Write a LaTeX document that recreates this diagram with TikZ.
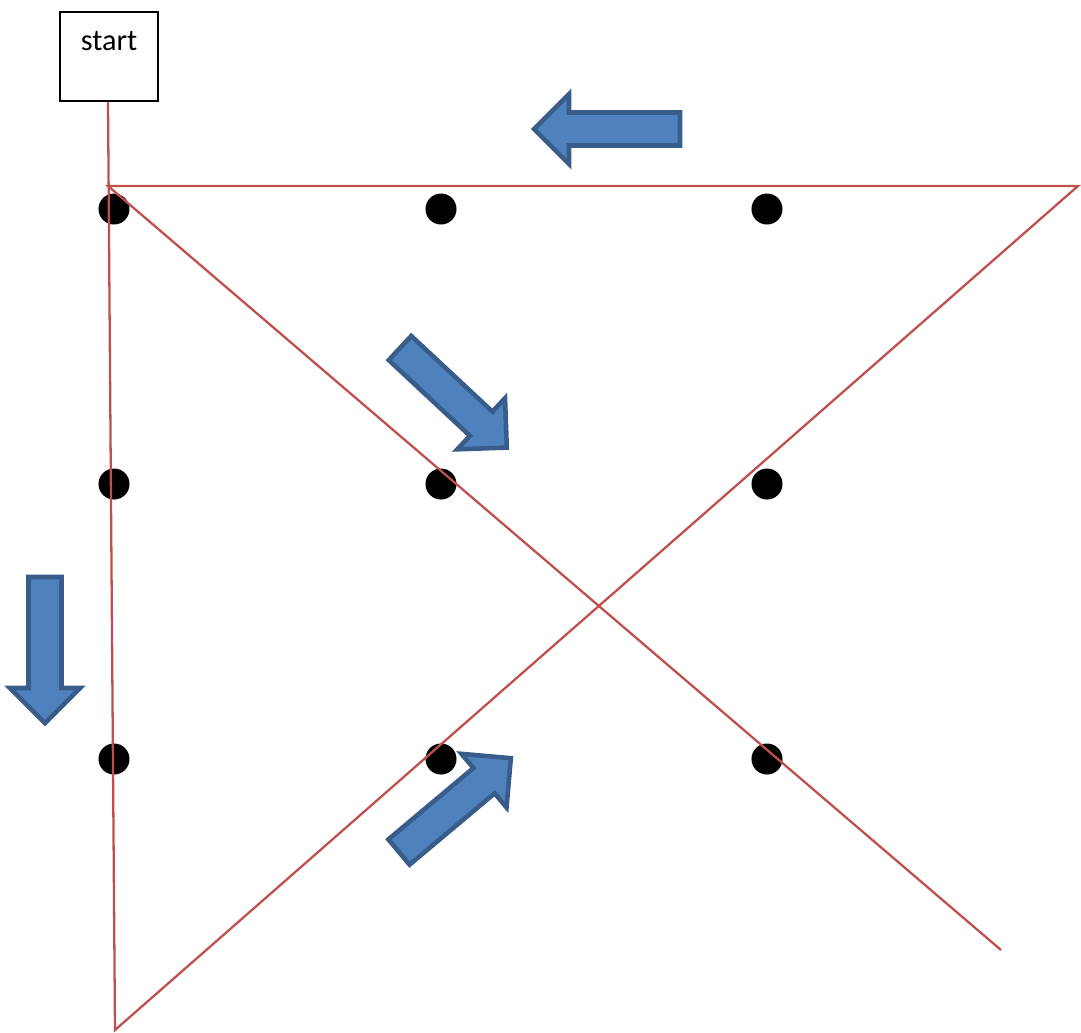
\documentclass[tikz,border=0pt]{standalone}
\usepackage{fontspec}
\setmainfont{Carlito}
\usepackage{tikz}
\usetikzlibrary{positioning,calc}
\definecolor{PuzzleRed}{RGB}{192, 80, 77}
\definecolor{PuzzleBlue}{RGB}{79, 129, 189}
\definecolor{PuzzleEdge}{RGB}{56, 93, 138}

\tikzset{
  pics/blockarrow/.style={code={
    \path [flow] (0,-16.5) -- (111,-16.5) -- (111,-35) -- (146,0) -- (111,35) -- (111,16.5) -- (0,16.5) -- cycle;
  }}
}

\begin{document}
\begin{tikzpicture}[x=0.01cm, y=-0.01cm]
  \tikzstyle{startbox} = [rectangle, draw=black, fill=white, line width=0.6pt, minimum width=0.98cm, inner sep=0pt, text height=0.38cm, text depth=0.51cm, font=\fontsize{8.6}{10}\selectfont]
  \tikzstyle{dot} = [circle, fill=black, minimum size=0.31cm, inner sep=0pt]
  \tikzstyle{route} = [draw=PuzzleRed, line width=0.65pt]
  \tikzstyle{flow} = [draw=PuzzleEdge, fill=PuzzleBlue, line width=1.3pt, miter limit=10]

  \useasboundingbox (0,0) rectangle (1081,1032);

  % the nine dots
  \foreach \c/\x in {1/114,2/441,3/767}
    \foreach \r/\y in {1/209,2/484,3/759}
      \node [dot] (d\r\c) at (\x,\y) {};

  \node [startbox, anchor=base] (start) at (109,50) {start};

  \coordinate (bottomleft) at (115,1030);
  \coordinate (topright) at (1078,186);
  \coordinate (topleft) at (108,186);
  \coordinate (bottomright) at (1001,950);

  \path [route] (start.south -| topleft) -- (bottomleft) -- (topright) -- (topleft) -- (bottomright);

  % direction arrows
  \pic [rotate=-90] (godown) at (45,577) {blockarrow};
  \pic [rotate=40] (goup) at (399,852) {blockarrow};
  \pic [rotate=180] (goleft) at (680,129) {blockarrow};
  \pic [rotate=-43] (goacross) at (400,348) {blockarrow};
\end{tikzpicture}
\end{document}
